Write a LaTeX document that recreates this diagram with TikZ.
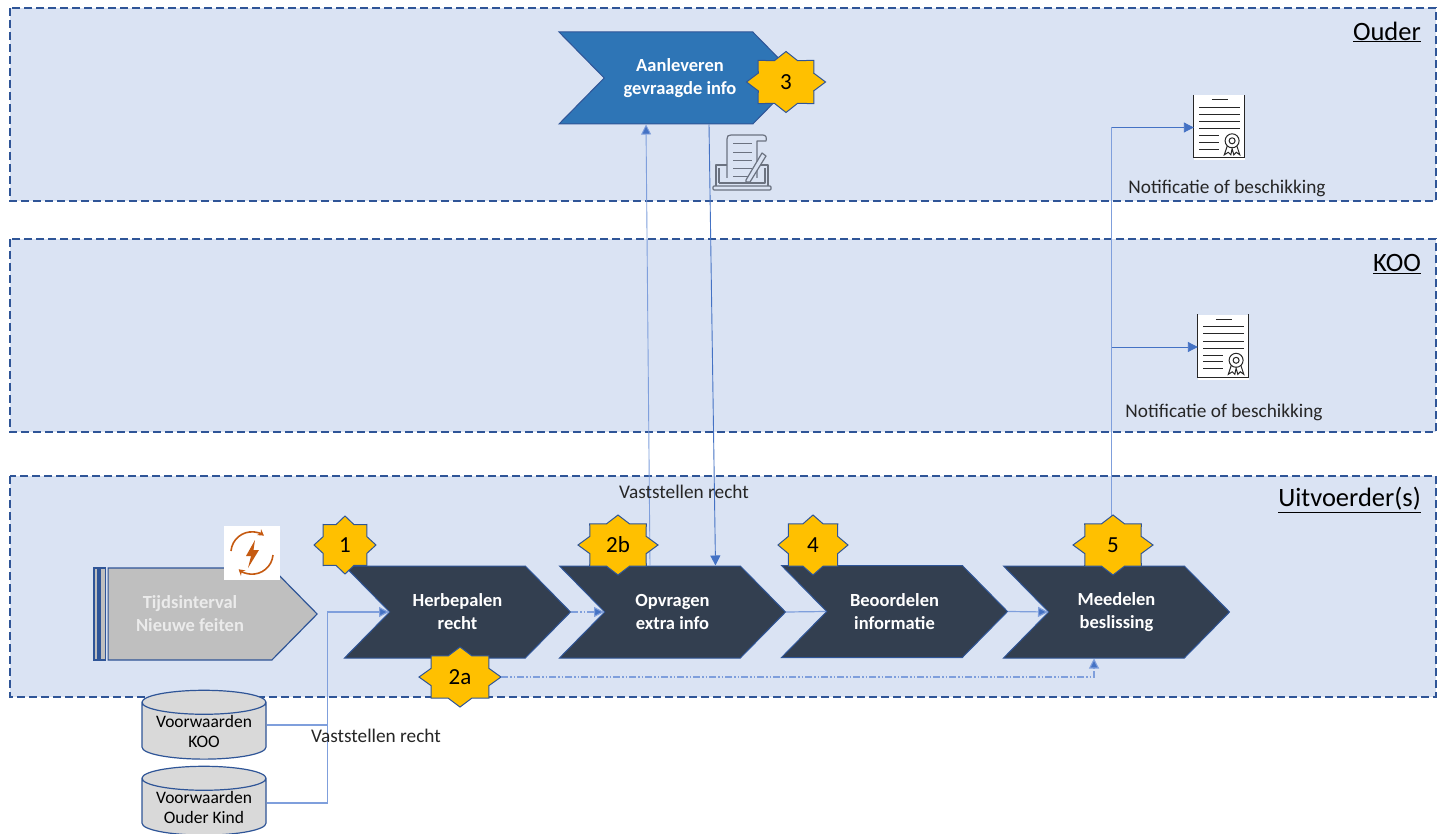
\documentclass[tikz,border=0pt]{standalone}
\usepackage{fontspec}
\setmainfont{Carlito}
\usetikzlibrary{shapes.geometric,shapes.symbols,arrows.meta,calc}
\definecolor{lanefill}{HTML}{DAE3F3}
\definecolor{edgeblue}{HTML}{2F5597}
\definecolor{linkblue}{HTML}{4472C4}
\definecolor{lightlink}{HTML}{7F9FDC}
\definecolor{darkbox}{HTML}{333F50}
\definecolor{midbox}{HTML}{2E75B6}
\definecolor{greybox}{HTML}{BFBFBF}
\definecolor{cylgrey}{HTML}{D9D9D9}
\definecolor{badgefill}{HTML}{FFC000}
\definecolor{iconorange}{HTML}{C55A11}
\definecolor{icongrey}{HTML}{6B7280}
\tikzset{
 x=1pt,y=-1pt,
 lane/.style={draw=edgeblue,fill=lanefill,line width=1.4pt,dash pattern=on 8pt off 4pt},
 lanetitle/.style={font=\fontsize{26.5}{30}\selectfont,anchor=east,text=black,inner sep=0pt},
 chev/.style={signal,signal to=east,signal from=west,signal pointer angle=91,draw=edgeblue,line width=1pt,
   minimum height=92pt,minimum width=226pt,inner sep=0pt,align=center,text=white,
   font=\fontsize{18.5}{23}\selectfont\bfseries},
 darkchev/.style={chev,fill=darkbox},
 bluechev/.style={chev,fill=midbox},
 penta/.style={signal,signal to=east,signal pointer angle=91,draw=edgeblue,line width=1.2pt,fill=greybox,
   minimum height=92pt,minimum width=209pt,inner sep=0pt,align=center,text=white!92!black,
   font=\fontsize{18.5}{23}\selectfont\bfseries},
 stripe/.style={draw=edgeblue,line width=1.2pt,fill=greybox},
 badgestar/.style={draw=edgeblue,line width=1pt,fill=badgefill,line join=miter},
 badgetext/.style={inner sep=0pt,font=\fontsize{23}{27}\selectfont,text=black},
 db/.style={cylinder,shape border rotate=90,draw=edgeblue,line width=1.2pt,fill=cylgrey,cylinder uses custom fill,
   cylinder body fill=cylgrey,cylinder end fill=cylgrey,aspect=0.25,minimum width=124pt,minimum height=61pt,
   inner sep=0pt,align=center,font=\fontsize{17.5}{20}\selectfont},
 plain/.style={inner sep=0pt,font=\fontsize{19.3}{22}\selectfont,text=black!85},
 conn/.style={draw=lightlink,line width=1.2pt},
 connthin/.style={draw=linkblue,line width=.9pt},
 tip/.style={-{Triangle[width=10pt,length=10pt,fill=linkblue]}},
 dashline/.style={draw=lightlink,line width=1.1pt,dash pattern=on 7pt off 2pt on 1.5pt off 2pt on 1.5pt off 2pt},
 docbox/.style={fill=white,minimum width=51pt,minimum height=65pt,inner sep=0pt},
 docline/.style={draw=black!85,line width=1pt},
}
\newcommand{\starbadge}[6]{%
 \draw[badgestar] plot[variable=\k,samples at={0,...,15}]
   ({#2+#4*(mod(\k,2)==0?1:0.76)*cos(22.5*\k)},{#3+#5*(mod(\k,2)==0?1:0.76)*sin(22.5*\k)}) -- cycle;
 \node[badgetext,minimum width=2*#4*1pt,minimum height=2*#5*1pt] (#1) at (#2,#3) {#6};
}
\newcommand{\docicon}[3]{%
 \node[docbox] (#1) at (#2,#3) {};
 \begin{scope}[shift={(#1.north west)}]
  \draw[docline] (0,0) -- (0,63) -- (51,63) -- (51,0);
  \draw[docline] (18,5) -- (34,5);
  \foreach \ly in {12.3,19.3,26.7,33.7} \draw[docline] (5.5,\ly) -- (46,\ly);
  \foreach \ly in {40.7,47.3,54.3} \draw[docline] (5.5,\ly) -- (25,\ly);
  \draw[docline] (38.3,46) circle (7);
  \draw[docline] (38.3,46) circle (3);
  \draw[docline] (33.5,51) -- (30.5,60) -- (34.5,57.5) -- (37,60) -- (38.3,54) -- (40,60) -- (42.5,57.5) -- (46,60) -- (43,51);
 \end{scope}
}
\begin{document}
\begin{tikzpicture}
\useasboundingbox (0,0) rectangle (1442,834);
\fill[white] (0,0) rectangle (1442,834);
% lanes
\draw[lane] (10,8) rectangle (1436,201);
\draw[lane] (10,239) rectangle (1436,432);
\draw[lane] (10,476) rectangle (1436,697);
\node[lanetitle] (tOuder) at (1421,32) {\underline{Ouder}};
\node[lanetitle] (tKOO) at (1421,264) {\underline{KOO}};
\node[lanetitle] (tUit) at (1421,500) {\underline{Uitvoerder(s)}};
% process chevrons
\node[darkchev] (herb) at (457.5,612) {Herbepalen\\recht};
\node[darkchev] (opv) at (672.5,612) {Opvragen\\extra info};
\node[darkchev] (beo) at (894.5,611.5) {Beoordelen\\informatie};
\node[darkchev] (mee) at (1116.5,612) {Meedelen\\beslissing};
\node[bluechev,minimum width=239pt] (aan) at (678.5,78) {\hspace*{3pt}Aanleveren\\\hspace*{3pt}gevraagde info};
% trigger
\draw[stripe] (94,568) rectangle (98,660);
\draw[stripe] (100,568) rectangle (105.5,660);
\node[penta] (tijd) at (190,614) {Tijdsinterval\\Nieuwe feiten};
% trigger icon
\node[fill=white,minimum width=56pt,minimum height=54pt,inner sep=0pt] (trig) at (252,553) {};
\draw[iconorange,line width=1.6pt,-{Stealth[length=6pt,width=7pt]}] ([xshift=21pt,yshift=-2pt]trig.center) arc[start angle=-5,end angle=-130,radius=21pt];
\draw[iconorange,line width=1.6pt,-{Stealth[length=6pt,width=7pt]}] ([xshift=-21pt,yshift=2pt]trig.center) arc[start angle=175,end angle=55,radius=21pt];
\fill[iconorange] (255,540) -- (246,556) -- (251,556) -- (248,568) -- (259,550) -- (253.5,550) -- cycle;
% databases
\node[db] (dbk) at (204,731) {Voorwaarden\\KOO};
\node[db] (dbo) at (204,807) {Voorwaarden\\Ouder Kind};
% connectors
\draw[conn] ([yshift=6pt]dbk.east) -- ++(61,0);
\draw[conn,tip] ([yshift=4pt]dbo.east) -- ++(61,0) |- (herb.west);
\draw[dashline,tip] (herb.east) -- (opv.west);
\draw[conn] (opv.east) -- (beo.west);
\draw[conn,tip] (beo.east) -- (mee.west);
\draw[connthin,draw=lightlink,tip] ([xshift=-22.5pt]opv.north) -- ([xshift=-32.5pt]aan.south);
\draw[connthin,tip] ([xshift=30.5pt]aan.south) -- ([xshift=43pt]opv.north);
% documents
\docicon{docA}{1219.5}{127.5}
\docicon{docB}{1223.5}{347}
\draw[conn] ([xshift=-5pt]mee.north |- 0,516) -- ([xshift=-5pt]mee.north |- docA.west);
\draw[connthin,tip] ([xshift=-5pt]mee.north |- docA.west) -- (docA.west);
\draw[connthin,tip] ([xshift=-5pt]mee.north |- docB.west) -- (docB.west);
% badges
\starbadge{b1}{345}{545}{31}{29}{1}
\starbadge{b2a}{460}{677}{41}{30}{2a}
\starbadge{b2b}{618}{545}{40}{30}{2b}
\starbadge{b3}{786}{82}{39.5}{30.5}{3}
\starbadge{b4}{813}{545}{35}{30}{4}
\starbadge{b5}{1113}{545}{40}{30}{5}
\draw[dashline,tip] (b2a.east) -| (mee.south -| 1094,0);
% laptop icon
\begin{scope}[draw=icongrey,line width=1pt,line join=round]
 \node[inner sep=0pt,minimum width=59pt,minimum height=56pt] (lap) at (741.5,163) {};
 \draw[icongrey,line width=1.2pt] (716,186) -- (716,165) -- (768,165) -- (768,186);
 \draw[icongrey,line width=1.2pt] (719,183) -- (719,168) (765,168) -- (765,183) -- (719,183);
 \draw[icongrey,line width=1.2pt,rounded corners=1pt] (713,186) -- (771,186) -- (771,190) -- (713,190) -- cycle;
 \draw[icongrey,line width=1.2pt,fill=lanefill] (727,178) -- (727,139) .. controls (727,136) and (728,135) .. (731,135) -- (763,135) .. controls (766,135) and (767,138) .. (766,141) -- (757,141) -- (757,178);
 \foreach \ly in {144,153,161,169,177} \draw[icongrey] (733,\ly) -- (752,\ly);
 \draw[icongrey,line width=1.2pt,fill=lanefill] (746,180) -- (762,153) -- (766,156) -- (750,182) -- (746,182) -- cycle;
\end{scope}
% labels
\node[plain] (nA) at (1227,188) {Notificatie of beschikking};
\node[plain] (nB) at (1224,412) {Notificatie of beschikking};
\node[plain] (vA) at (684,492) {Vaststellen recht};
\node[plain] (vB) at (376,736) {Vaststellen recht};
\end{tikzpicture}
\end{document}
